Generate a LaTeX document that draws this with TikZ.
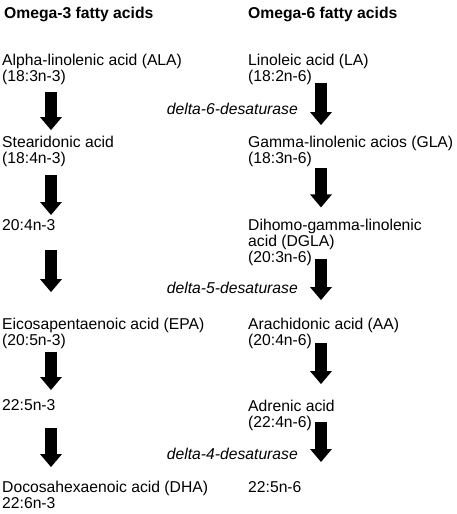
\documentclass[tikz,border=0pt]{standalone}
\usepackage{fontspec}
\setmainfont{Liberation Sans}
\usetikzlibrary{arrows.meta}
\tikzset{
  acid/.style={anchor=base west, align=left, inner sep=0pt, font=\fontsize{15.7}{15.7}\selectfont},
  head/.style={acid, font=\fontsize{15.7}{15.7}\selectfont\bfseries},
  enzyme/.style={anchor=base east, inner sep=0pt, font=\fontsize{15.7}{15.7}\selectfont\itshape},
  fat/.style={line width=12pt, -{Triangle[width=21pt,length=13pt]}}
}
\begin{document}
\begin{tikzpicture}[x=1pt,y=-1pt]
\useasboundingbox (0,0) rectangle (456,514);
\coordinate (xl) at (51,0);
\coordinate (xr) at (321,0);
% headings
\node[head] (h3) at (4,18) {Omega-3 fatty acids};
\node[head] (h6) at (248,18) {Omega-6 fatty acids};
% omega-3 (y = baseline of last line)
\node[acid] (ala) at (2,81) {Alpha-linolenic acid (ALA)\\(18:3n-3)};
\node[acid] (sda) at (2,163) {Stearidonic acid\\(18:4n-3)};
\node[acid] (eta) at (2,230) {20:4n-3};
\node[acid] (epa) at (2,345) {Eicosapentaenoic acid (EPA)\\(20:5n-3)};
\node[acid] (dpa3) at (2,410) {22:5n-3};
\node[acid] (dha) at (2,508) {Docosahexaenoic acid (DHA)\\22:6n-3};
% omega-6
\node[acid] (la) at (248,81) {Linoleic acid (LA)\\(18:2n-6)};
\node[acid] (gla) at (248,163) {Gamma-linolenic acios (GLA)\\(18:3n-6)};
\node[acid] (dgla) at (248,262) {Dihomo-gamma-linolenic\\acid (DGLA)\\(20:3n-6)};
\node[acid] (aa) at (248,345) {Arachidonic acid (AA)\\(20:4n-6)};
\node[acid] (adr) at (248,427) {Adrenic acid\\(22:4n-6)};
\node[acid] (dpa6) at (248,492) {22:5n-6};
% enzymes
\node[enzyme] (d6) at (298,114) {delta-6-desaturase};
\node[enzyme] (d5) at (298,293) {delta-5-desaturase};
\node[enzyme] (d4) at (298,459) {delta-4-desaturase};
% arrows
\draw[fat, shorten <=8pt, shorten >=5.6pt] (ala.south -| xl) -- (sda.north -| xl);
\draw[fat, shorten <=8.7pt, shorten >=3.8pt] (sda.south -| xl) -- (eta.north -| xl);
\draw[fat, shorten <=20pt, shorten >=25.6pt] (eta.south -| xl) -- (epa.north -| xl);
\draw[fat, shorten <=3.7pt, shorten >=8.8pt] (epa.south -| xl) -- (dpa3.north -| xl);
\draw[fat, shorten <=18pt, shorten >=13.6pt] (dpa3.south -| xl) -- (dha.north -| xl);
\draw[fat, shorten <=-1.3pt, shorten >=10.6pt] (la.south -| xr) -- (gla.north -| xr);
\draw[fat, shorten <=1.7pt, shorten >=11.6pt] (gla.south -| xr) -- (dgla.north -| xr);
\draw[fat, shorten <=-6.3pt, shorten >=17.6pt] (dgla.south -| xr) -- (aa.north -| xr);
\draw[fat, shorten <=-5.3pt, shorten >=15.6pt] (aa.south -| xr) -- (adr.north -| xr);
\draw[fat, shorten <=-8.3pt, shorten >=18.8pt] (adr.south -| xr) -- (dpa6.north -| xr);
\end{tikzpicture}
\end{document}
